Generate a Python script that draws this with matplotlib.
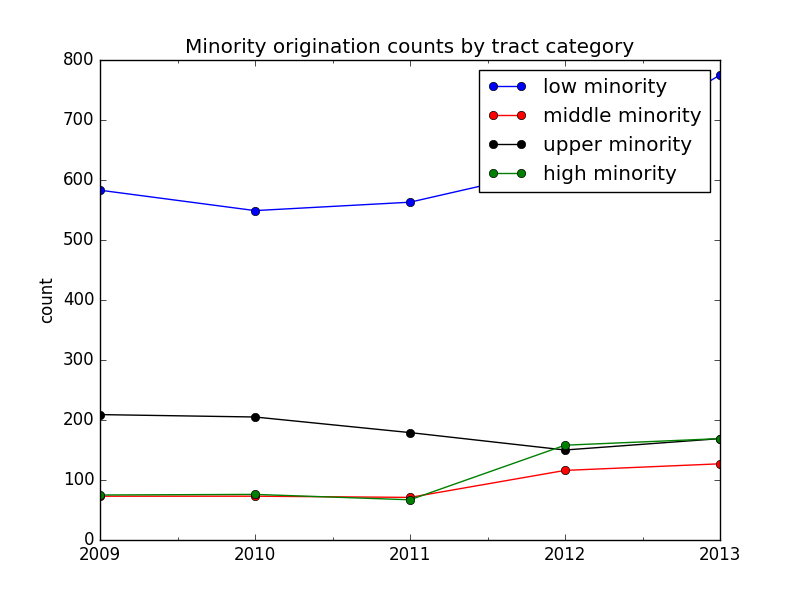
import matplotlib
matplotlib.use("Agg")
import matplotlib.pyplot as plt
from matplotlib.ticker import MultipleLocator

plt.style.use('classic')

years = [2009, 2010, 2011, 2012, 2013]
low_minority = [583, 549, 563, 622, 775]
middle_minority = [73, 73, 71, 116, 127]
upper_minority = [209, 205, 179, 150, 169]
high_minority = [75, 76, 67, 158, 169]

fig, ax = plt.subplots(figsize=(8, 6), dpi=100)
ax.plot(years, low_minority, 'o-', color='b', label='low minority')
ax.plot(years, middle_minority, 'o-', color='r', label='middle minority')
ax.plot(years, upper_minority, 'o-', color='k', label='upper minority')
ax.plot(years, high_minority, 'o-', color='g', label='high minority')

ax.set_xlim(2009, 2013)
ax.set_ylim(0, 800)
ax.xaxis.set_major_locator(MultipleLocator(1))
ax.xaxis.set_minor_locator(MultipleLocator(0.5))
ax.xaxis.get_major_formatter().set_useOffset(False)
ax.set_ylabel('count')
ax.set_title('Minority origination counts by tract category')
ax.legend(loc='upper right', numpoints=2)

fig.savefig('out.png', dpi=100)
